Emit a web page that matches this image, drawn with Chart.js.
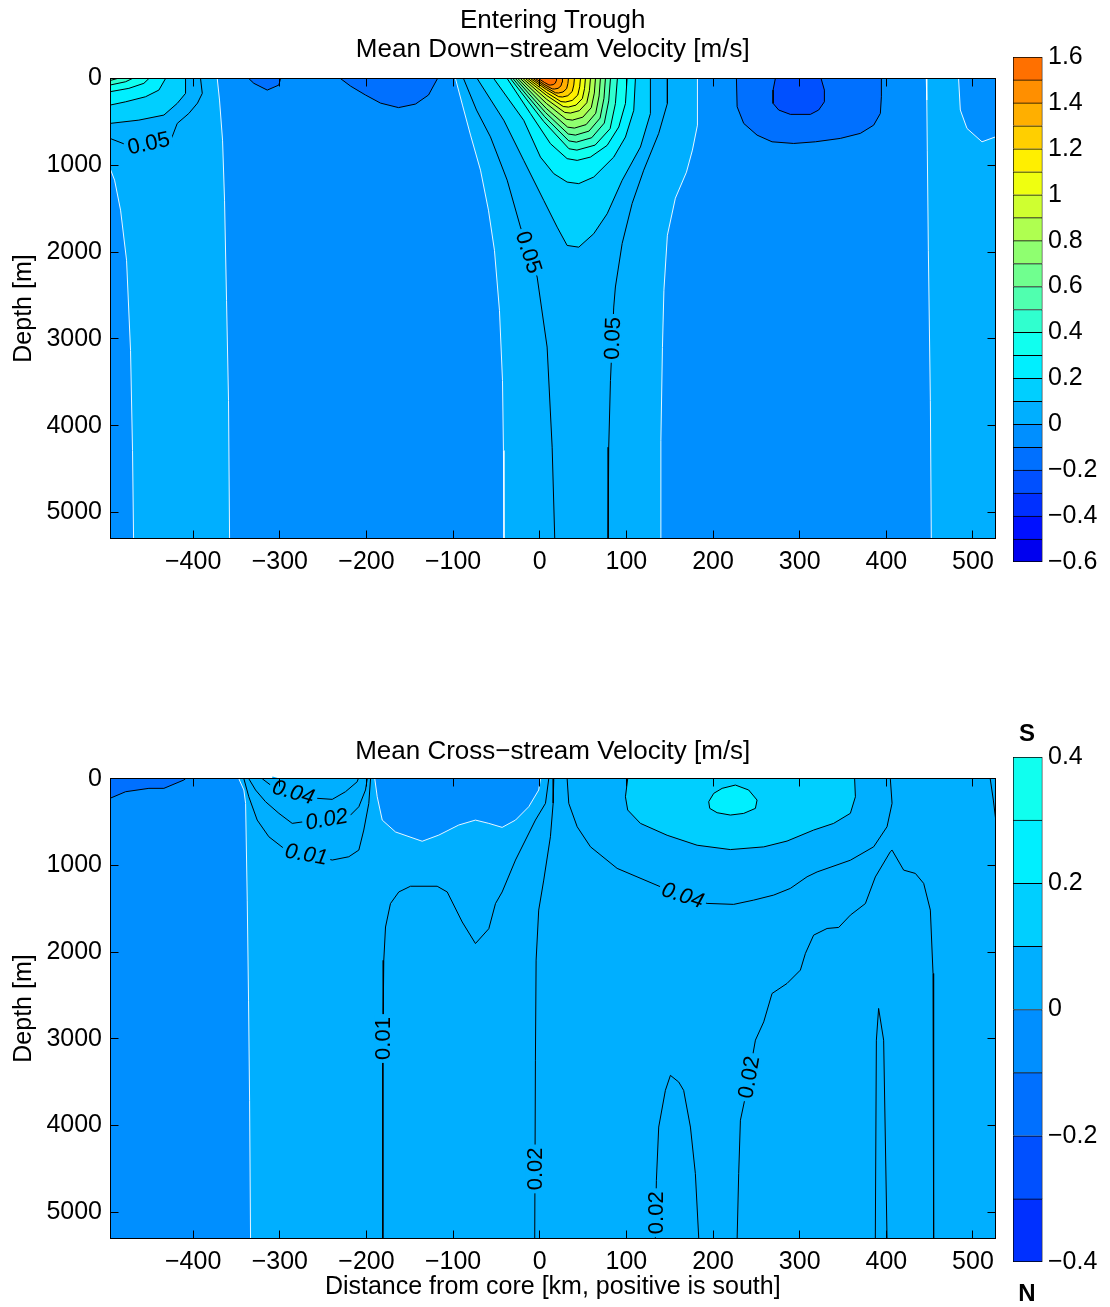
<!DOCTYPE html>
<html>
<head>
<meta charset="utf-8">
<title>Entering Trough</title>
<script src="https://cdn.jsdelivr.net/npm/chart.js@4.4.1/dist/chart.umd.min.js"></script>
<style>
  html, body { margin: 0; padding: 0; background: #fff; }
  #page { position: relative; width: 1110px; height: 1307px; overflow: hidden; }
  canvas { position: absolute; }
  .pole { position: absolute; width: 30px; line-height: 28px; text-align: center;
          font: bold 24px "Liberation Sans", Arial, Helvetica, sans-serif; color: #000; }
</style>
</head>
<body>
<div id="page">
  <canvas id="down" width="1005" height="600" style="left:0px;top:0px"></canvas>
  <canvas id="downBar" width="110" height="565" style="left:1000px;top:27px"></canvas>
  <canvas id="cross" width="1005" height="607" style="left:0px;top:700px"></canvas>
  <canvas id="crossBar" width="110" height="565" style="left:1000px;top:727px"></canvas>
  <div class="pole" style="left:1012px;top:719px">S</div>
  <div class="pole" style="left:1012px;top:1279px">N</div>
</div>
<script>
// section extent: distance from core [km] and depth [m]
const xLimits = [-496, 526];
const depthLimits = [0, 5300];
const xTicks = [-400, -300, -200, -100, 0, 100, 200, 300, 400, 500];
const depthTicks = [0, 1000, 2000, 3000, 4000, 5000];

// colour levels of the two colour bars
const downLevels = [-0.6, -0.5, -0.4, -0.3, -0.2, -0.1, 0, 0.1, 0.2, 0.3, 0.4, 0.5,
                    0.6, 0.7, 0.8, 0.9, 1.0, 1.1, 1.2, 1.3, 1.4, 1.5, 1.6];
const crossLevels = [-0.4, -0.3, -0.2, -0.1, 0, 0.1, 0.2, 0.3, 0.4];

// ---- down-stream velocity: contour paths as [km, m] ----
const downZeroWestA = [[-496,1033],[-490.7,1171],[-483.8,1517],[-476.9,2094],[-472.3,3133],[-470.0,4286],[-468.8,5300]];
const downZeroWestB = [[-372.2,0],[-369.6,248],[-366.1,710],[-363.8,1402],[-361.5,2556],[-359.2,3709],[-358.0,5300]];
const downWest005 = [[-496,690],[-478,760],[-425,690],[-418.4,517],[-405,402],[-395,283],[-389.5,171],[-391.5,0]];
const downWest010 = [[-496,517],[-462.7,479],[-433.8,421],[-418.4,286],[-408.8,171],[-408.8,0]];
const downWest020 = [[-496,306],[-478,268],[-455,210],[-439.6,133],[-431.9,0]];
const downWest030 = [[-496,152],[-474.2,113],[-456.9,55],[-451.1,0]];
const downWest040 = [[-496,75],[-478,37],[-470.3,0]];
const downWest050 = [[-496,23],[-487.6,0]];
const downNotchA = [[-335.8,0],[-330.0,55],[-314.5,133],[-301.1,75],[-299.2,0]];
const downNotchB = [[-230,0],[-218.4,87],[-201.1,190],[-183.8,283],[-163.0,335],[-143.4,294],[-128.4,190],[-118.0,0]];
const downZeroCoreW = [[-97.3,0],[-89.2,306],[-79.9,652],[-68.4,1056],[-59.2,1517],[-52.3,1979],[-46.5,2671],[-43.0,3479],[-41.9,4286],[-41.3,5300]];
const downZeroCoreE = [[139.3,5300],[139.8,4171],[141.6,3098],[143.3,2440],[147.3,1806],[156.5,1379],[169.3,1079],[176.2,825],[182.0,537],[182.0,0]];
const downCore005W = [[-88.0,0],[-73.0,363],[-56.9,672],[-37.6,1171],[-22.3,1710],[-3.0,2287],[8.5,3094],[14.3,4248],[17.3,5300]];
const downCore005E = [[147.3,0],[147.3,286],[137.3,632],[120.0,1056],[106.6,1440],[95.1,1901],[87.3,2402],[85.4,2633],[81.6,3479],[79.6,4248],[78.9,5300]];
const downCore010 = [[-72.2,0],[-41.5,481],[-18.5,943],[4.6,1404],[20.1,1712],[31.6,1923],[45,1943],[62.3,1788],[77.8,1558],[95.1,1173],[116.2,789],[127.7,404],[127.7,0]];
const downCore020 = [[-53.1,0],[-18.5,481],[0.8,905],[16.2,1096],[31.6,1193],[45,1211],[62.3,1135],[85.4,905],[98.9,674],[108.5,366],[110.4,0]];
const downCore030 = [[-37.6,0],[-10.7,404],[12.3,750],[31.6,923],[43.2,943],[58.5,905],[77.8,770],[91.2,558],[98.9,288],[100.8,0]];
const downCore040 = [[-33.8,0],[4.6,495],[33.7,809],[42.9,825],[63.9,767],[81.2,578],[87.3,289],[89.6,0]];
const downCore050 = [[-30.9,0],[5.7,440],[33.5,718],[42.3,733],[60.0,682],[74.5,513],[79.6,257],[81.6,0]];
const downCore060 = [[-28.0,0],[6.6,391],[32.9,639],[41.2,652],[56.8,606],[69.6,456],[74.1,228],[75.8,0]];
const downCore070 = [[-25.2,0],[7.4,343],[32.2,560],[40.0,571],[53.5,531],[64.6,400],[68.5,200],[70.0,0]];
const downCore080 = [[-22.3,0],[7.7,287],[30.5,469],[37.7,479],[49.7,445],[59.5,335],[63.0,168],[64.3,0]];
const downCore090 = [[-19.4,0],[8.0,239],[28.8,390],[35.4,398],[45.8,370],[54.3,279],[57.3,139],[58.5,0]];
const downCore100 = [[-16.5,0],[8.3,197],[27.1,322],[33.1,329],[41.9,306],[49.2,230],[51.7,115],[52.7,0]];
const downCore110 = [[-13.6,0],[8.1,163],[24.5,266],[29.7,271],[37.5,252],[43.9,190],[46.1,95],[47.0,0]];
const downCore120 = [[-10.7,0],[7.8,128],[21.8,209],[26.2,213],[32.4,198],[37.5,149],[39.3,75],[40.0,0]];
const downCore130 = [[-7.8,0],[6.9,100],[18.1,164],[21.6,167],[26.8,155],[31.0,117],[32.5,58],[33.1,0]];
const downCore140 = [[-5.0,0],[6.0,73],[14.4,119],[17.0,121],[21.1,113],[24.5,85],[25.7,42],[26.2,0]];
const downCore150 = [[-1.5,0],[5.4,45],[10.6,74],[12.3,75],[15.5,70],[18.0,53],[19.0,26],[19.3,0]];
const downZeroEastW = [[446.1,0],[446.7,248],[447.3,825],[448.5,1979],[450.8,3709],[451.9,5300]];
const downZeroEastE = [[526,672],[510.4,729],[493.1,575],[485.4,363],[483.4,0]];
const downNeg010 = [[227.0,0],[227.8,325],[235.4,517],[250.8,652],[268.1,729],[293.1,748],[318.1,729],[346.9,690],[370.0,632],[385.4,537],[393.1,402],[394.3,210],[394.3,0]];
const downNeg020 = [[271.9,0],[269.3,133],[269.3,286],[275.8,363],[289.3,413],[312.3,413],[321.9,363],[328.5,268],[328.5,133],[324.7,0]];

const downCoreLevels = [0.1, 0.2, 0.3, 0.4, 0.5, 0.6, 0.7, 0.8, 0.9, 1.0, 1.1, 1.2, 1.3, 1.4, 1.5];
const downCoreContours = [downCore010, downCore020, downCore030, downCore040, downCore050, downCore060, downCore070,
  downCore080, downCore090, downCore100, downCore110, downCore120, downCore130, downCore140, downCore150];
const downWestLevels = [0.1, 0.2, 0.3, 0.4, 0.5];
const downWestContours = [downWest010, downWest020, downWest030, downWest040, downWest050];

const downLabels = [
  { text: '0.05', at: [-451.4, 744], angle: -12 },
  { text: '0.05', at: [-12.5, 2002], angle: 72 },
  { text: '0.05', at: [83.8, 2994], angle: -88 }
];

// ---- cross-stream velocity: contour paths as [km, m] ----
const crossZeroWest = [[-347.3,0],[-341.5,130],[-339.5,284],[-337.6,1400],[-336.1,2554],[-334.9,3708],[-333.8,5300]];
const crossNeg010 = [[-496,226],[-478,150],[-451.1,111],[-433.8,111],[-410.8,15],[-408.8,0]];
const crossZeroMid = [[-190.4,0],[-187.6,208],[-181.8,477],[-166.5,614],[-135.7,721],[-116.5,650],[-93.5,534],[-74.2,477],[-58.8,515],[-43.4,561],[-28.0,477],[-12.7,323],[-1.2,130],[0.8,0]];
const cross010 = [[101.5,0],[98.9,208],[101.5,361],[116.2,515],[147.0,652],[181.6,767],[220.0,817],[258.5,786],[285.4,719],[316.1,592],[339.2,515],[358.5,399],[364.3,208],[363.4,0]];
const cross020 = [[195.0,265],[200.8,169],[210.5,111],[225.8,73],[241.1,130],[250.8,246],[248.9,342],[235.4,400],[220.0,419],[204.7,392],[196.2,342],[195.0,265]];
const cross004West = [[-320.3,0],[-310.7,73],[-256.8,226],[-239.5,238],[-224.2,150],[-210.7,35],[-209.5,0]];
const cross002West = [[-335.8,0],[-328.0,130],[-316.5,265],[-301.1,399],[-285.7,515],[-218.4,419],[-208.8,323],[-201.1,130],[-199.1,0]];
const cross001West = [[-341.5,0],[-335.8,208],[-326.1,477],[-312.7,669],[-295.4,803],[-239.5,938],[-220.4,900],[-208.8,823],[-203.1,592],[-197.3,284],[-195.3,0]];
const cross001 = [[10.4,0],[6.6,284],[-5.0,477],[-28.0,938],[-43.4,1306],[-51.1,1440],[-58.8,1730],[-74.2,1901],[-89.5,1652],[-106.8,1306],[-118.4,1240],[-149.2,1240],[-162.7,1306],[-172.3,1440],[-178.0,1710],[-180.0,2094],[-180.7,2746],[-181.1,3246],[-181.1,5300]];
const cross002Core = [[16.2,0],[15.5,280],[12.3,669],[4.6,1169],[-1.2,1515],[-4.2,2092],[-5.0,3246],[-5.8,5300]];
const cross004 = [[31.6,0],[33.5,284],[43.2,554],[58.5,785],[89.3,1034],[139.3,1246],[193.1,1438],[223.8,1449],[246.9,1400],[270.0,1342],[289.2,1265],[308.5,1131],[320.1,1075],[358.5,940],[385.4,785],[400.8,554],[406.6,284],[404.6,0]];
const cross002East = [[227.8,5300],[229.6,4553],[231.6,3938],[237.3,3669],[248.9,3015],[258.5,2804],[268.1,2477],[285.4,2361],[300.8,2207],[306.6,2015],[316.1,1804],[331.6,1727],[345.0,1715],[358.5,1573],[375.8,1440],[387.3,1133],[404.6,842],[406.6,823],[420.0,1054],[433.5,1092],[443.1,1207],[450.8,1515],[453.9,2246],[454.6,3400],[454.6,5300]];
const crossSpike = [[387.3,5300],[388.5,3015],[391.1,2649],[396.9,3015],[400.8,5300]];
const crossHump = [[133.4,5300],[134.6,4632],[137.3,4017],[145.0,3594],[150.8,3421],[160.4,3498],[166.1,3594],[173.9,4017],[179.6,4554],[183.5,5300]];
const crossEdge = [[519.9,0],[523.5,246],[526,453]];

const crossLabels = [
  { text: '0.04', at: [-284.2, 153], angle: 16, italic: true },
  { text: '0.02', at: [-246.1, 465], angle: -10, italic: true },
  { text: '0.01', at: [-269.3, 869], angle: 10, italic: true },
  { text: '0.04', at: [165.2, 1342], angle: 18, italic: true },
  { text: '0.01', at: [-180.9, 2996], angle: -90 },
  { text: '0.02', at: [-5.5, 4500], angle: -90 },
  { text: '0.02', at: [241.3, 3443], angle: -80 },
  { text: '0.02', at: [133.9, 5005], angle: -90 }
];

const FONT = '"Liberation Sans", Arial, Helvetica, sans-serif';
Chart.defaults.font.family = FONT;
Chart.defaults.color = '#000';

// jet colour of the band whose lower bound is lo
function jet(lo) {
  const i = Math.round((lo + 0.6) / 0.1);
  const t = 0.375 + (i - 8.5) / 32;
  const c = k => Math.round(255 * Math.min(1, Math.max(0, 1.5 - Math.abs(4 * t - k))));
  return `rgb(${c(3)},${c(2)},${c(1)})`;
}

const fmt = v => String(v).replace('-', '\u2212');
const pts = arr => arr.map(([x, y]) => ({ x, y }));
const rev = arr => arr.slice().reverse();
const frameShape = [[xLimits[0], depthLimits[0]], [xLimits[1], depthLimits[0]],
                    [xLimits[1], depthLimits[1]], [xLimits[0], depthLimits[1]]];

// inward tick marks on all four sides plus the box
const boxTicks = {
  id: 'boxTicks',
  afterDraw(chart) {
    const { ctx, chartArea: a, scales: { x, y } } = chart;
    const L = Math.floor(a.left) + 0.5, R = Math.floor(a.right) + 0.5;
    const T = Math.floor(a.top) + 0.5, B = Math.floor(a.bottom) + 0.5;
    ctx.save();
    ctx.strokeStyle = '#000';
    ctx.lineWidth = 1;
    ctx.beginPath();
    x.ticks.forEach(t => {
      const p = Math.floor(x.getPixelForValue(t.value)) + 0.5;
      ctx.moveTo(p, T); ctx.lineTo(p, T + 8);
      ctx.moveTo(p, B); ctx.lineTo(p, B - 8);
    });
    y.ticks.forEach(t => {
      const p = Math.floor(y.getPixelForValue(t.value)) + 0.5;
      ctx.moveTo(L, p); ctx.lineTo(L + 8, p);
      ctx.moveTo(R, p); ctx.lineTo(R - 8, p);
    });
    ctx.stroke();
    ctx.strokeRect(L, T, R - L, B - T);
    ctx.restore();
  }
};

// inline contour labels, drawn over a patch of the local fill colour
const contourLabels = {
  id: 'contourLabels',
  afterDatasetsDraw(chart, args, opts) {
    const { ctx, scales: { x, y } } = chart;
    (opts.items || []).forEach(it => {
      ctx.save();
      ctx.translate(x.getPixelForValue(it.at[0]), y.getPixelForValue(it.at[1]));
      ctx.rotate(it.angle * Math.PI / 180);
      ctx.font = (it.italic ? 'italic ' : '') + '22px ' + FONT;
      const w = ctx.measureText(it.text).width;
      ctx.fillStyle = jet(0);
      ctx.fillRect(-w / 2 - 3, -9, w + 6, 18);
      ctx.fillStyle = '#000';
      ctx.textAlign = 'center';
      ctx.textBaseline = 'middle';
      ctx.fillText(it.text, 0, 1);
      ctx.restore();
    });
  }
};

function contourChart(id, cfg) {
  const datasets = [];
  cfg.fills.forEach(f => datasets.push({
    data: pts(f.shape), fill: 'shape', backgroundColor: jet(f.lo), borderWidth: 0
  }));
  cfg.whiteLines.forEach(l => datasets.push({
    data: pts(l), fill: false, borderColor: 'rgba(255,255,255,0.9)', borderWidth: 1
  }));
  cfg.blackLines.forEach(l => datasets.push({
    data: pts(l), fill: false, borderColor: '#000', borderWidth: 1
  }));
  datasets.forEach((d, i) => { d.order = -i; d.pointRadius = 0; d.tension = 0; });

  return new Chart(document.getElementById(id), {
    type: 'line',
    data: { datasets },
    options: {
      responsive: false, animation: false, devicePixelRatio: 1, events: [],
      layout: { padding: { left: 0, right: 9.5, top: 0, bottom: 0 } },
      plugins: {
        legend: { display: false },
        tooltip: { enabled: false },
        title: {
          display: true, fullSize: false, text: cfg.title, color: '#000',
          font: { size: 26, weight: 'normal', lineHeight: 1.12 }, padding: cfg.titlePad
        },
        contourLabels: { items: cfg.labels }
      },
      scales: {
        x: {
          type: 'linear', min: xLimits[0], max: xLimits[1],
          afterBuildTicks: s => { s.ticks = xTicks.map(value => ({ value })); },
          afterFit: s => { s.height = cfg.xHeight; },
          grid: { display: false, drawTicks: false }, border: { display: false },
          ticks: { padding: 9, autoSkip: false, maxRotation: 0,
                   font: { size: 25 }, color: '#000', callback: v => fmt(v) },
          title: cfg.xTitle
            ? { display: true, text: cfg.xTitle, color: '#000', font: { size: 25 }, padding: { top: 0, bottom: 5 } }
            : { display: false }
        },
        y: {
          type: 'linear', reverse: true, min: depthLimits[0], max: depthLimits[1],
          afterBuildTicks: s => { s.ticks = depthTicks.map(value => ({ value })); },
          afterFit: s => { s.width = 110; },
          grid: { display: false, drawTicks: false }, border: { display: false },
          ticks: { padding: 8, autoSkip: false, font: { size: 25 }, color: '#000', callback: v => fmt(v) },
          title: { display: true, text: 'Depth [m]', color: '#000', font: { size: 25 }, padding: { top: 9, bottom: 0 } }
        }
      }
    },
    plugins: [contourLabels, boxTicks]
  });
}

function colourBar(id, levels) {
  const datasets = levels.slice(0, -1).map((lo, i) => ({
    data: [[lo, levels[i + 1]]],
    backgroundColor: jet(lo),
    borderColor: '#000',
    borderWidth: { top: 1, left: 1, right: 1, bottom: i === 0 ? 1 : 0 },
    borderSkipped: false,
    grouped: false,
    barPercentage: 1,
    categoryPercentage: 1
  }));
  return new Chart(document.getElementById(id), {
    type: 'bar',
    data: { labels: [''], datasets },
    options: {
      responsive: false, animation: false, devicePixelRatio: 1, events: [],
      layout: { padding: { left: 13, right: 0, top: 30, bottom: 30 } },
      plugins: { legend: { display: false }, tooltip: { enabled: false } },
      scales: {
        x: { display: false },
        y: {
          position: 'right', min: levels[0], max: levels[levels.length - 1],
          afterFit: s => { s.width = 67.5; },
          grid: { display: false, drawTicks: false }, border: { display: false },
          ticks: { stepSize: 0.2, padding: 5.5, font: { size: 25 }, color: '#000',
                   callback: v => fmt(Math.round(v * 10) / 10) }
        }
      }
    }
  });
}

contourChart('down', {
  title: ['Entering Trough', 'Mean Down\u2212stream Velocity [m/s]'],
  titlePad: { top: 6.4, bottom: 13.9 },
  xHeight: 61.5,
  fills: [
    { lo: -0.1, shape: frameShape },
    { lo: 0, shape: [[xLimits[0], 0], ...downZeroWestB, ...rev(downZeroWestA)] },
    ...downWestContours.map((c, i) => ({ lo: downWestLevels[i], shape: [[xLimits[0], 0], ...c] })),
    { lo: -0.2, shape: downNotchA },
    { lo: -0.2, shape: downNotchB },
    { lo: 0, shape: [...downZeroCoreW, ...downZeroCoreE] },
    ...downCoreContours.map((c, i) => ({ lo: downCoreLevels[i], shape: c })),
    { lo: 0, shape: [...downZeroEastW, [xLimits[1], depthLimits[1]], ...downZeroEastE] },
    { lo: -0.2, shape: downNeg010 },
    { lo: -0.3, shape: downNeg020 }
  ],
  whiteLines: [downZeroWestA, downZeroWestB, downZeroCoreW, downZeroCoreE, downZeroEastW, downZeroEastE],
  blackLines: [downWest005, ...downWestContours, downNotchA, downNotchB,
               downCore005W, downCore005E, ...downCoreContours, downNeg010, downNeg020],
  labels: downLabels
});

contourChart('cross', {
  title: 'Mean Cross\u2212stream Velocity [m/s]',
  titlePad: { top: 37.4, bottom: 12.2 },
  xHeight: 68.7,
  xTitle: 'Distance from core [km, positive is south]',
  fills: [
    { lo: 0, shape: frameShape },
    { lo: -0.1, shape: [[xLimits[0], 0], ...crossZeroWest, [xLimits[0], depthLimits[1]]] },
    { lo: -0.2, shape: [[xLimits[0], 0], ...crossNeg010] },
    { lo: -0.1, shape: crossZeroMid },
    { lo: 0.1, shape: cross010 },
    { lo: 0.2, shape: cross020 }
  ],
  whiteLines: [crossZeroWest, crossZeroMid],
  blackLines: [crossNeg010, cross010, cross020, cross004West, cross002West, cross001West,
               cross001, cross002Core, cross004, cross002East, crossSpike, crossHump, crossEdge],
  labels: crossLabels
});

colourBar('downBar', downLevels);
colourBar('crossBar', crossLevels);
</script>
</body>
</html>
